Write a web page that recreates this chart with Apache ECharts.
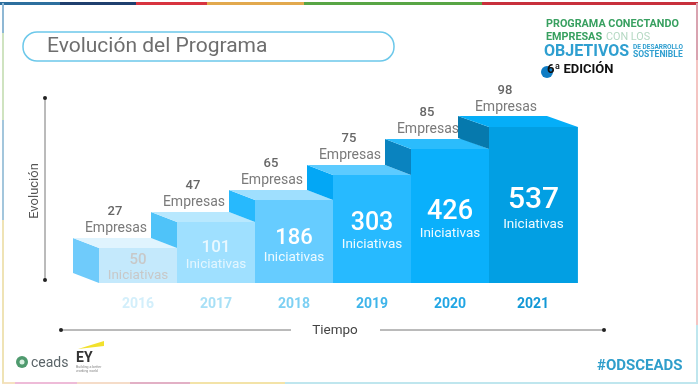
<!DOCTYPE html>
<html>
<head>
<meta charset="utf-8">
<script src="https://cdn.jsdelivr.net/npm/echarts@6/dist/echarts.min.js"></script>
<style>
  html, body { margin: 0; padding: 0; background: #fff; }
  #chart { width: 700px; height: 386px; }
</style>
</head>
<body>
<div id="chart"></div>
<script>
// values
const years = ['2016', '2017', '2018', '2019', '2020', '2021'];
const empresas = [27, 47, 65, 75, 85, 98];
const iniciativas = [50, 101, 186, 303, 426, 537];
const stepHeights = [35, 61, 83, 108, 134, 156];

// look of each step
const frontColors = ['#c4e9fc', '#9fe0ff', '#66ccff', '#27baff', '#0ab0fb', '#029fe3'];
const topColors = ['#e0f4fe', '#b8e8fe', '#9fdffe', '#5ccbff', '#2bbcfc', '#05aef8'];
const sideColors = ['#6fcbfb', '#4fc3f9', '#27b9fd', '#03a7f5', '#0a83bf', '#0679ad'];
const yearColors = ['#d3effb', '#a8e0f6', '#7dd0f3', '#3fb5ea', '#22a6e4', '#1298d6'];
const numberColors = ['#c8c8c8', '#e9f8ff', '#ffffff', '#ffffff', '#ffffff', '#ffffff'];
const wordColors = ['#c8c8c8', '#e4f6ff', '#eefaff', '#eefaff', '#eefaff', '#eefaff'];
const numberSizes = [15, 17, 22, 25, 27, 30];
const numberLift = [25, 37, 47, 61, 73, 85];
const wordLift = [9, 20, 27, 40, 51, 60];

const topSegments = [[0, 60, '#2d6f9e'], [60, 136, '#1f3f6e'], [136, 207, '#d8343f'], [207, 304, '#e2a94e'], [304, 482, '#58a545'], [482, 698, '#c8303c']];
const leftSegments = [[3, 33, '#8fb8d4'], [33, 120, '#cfe3c0'], [120, 220, '#a3c6dc'], [220, 383, '#efe3b5']];
const rightSegments = [[3, 60, '#d9a3b0'], [60, 325, '#f4c4c2'], [325, 384, '#bfe6ee']];
const bottomSegments = [[2, 15, '#f5e2c0'], [15, 77, '#eebbd8'], [77, 130, '#f5dcc8'], [130, 190, '#e2b0c5'], [190, 285, '#f3e3a8'], [285, 698, '#bfe6ee']];

const font = 'Roboto';
const textNudge = 2;

const segmentRects = () => {
    const rects = [];
    topSegments.forEach(s => rects.push({type: 'rect', shape: {x: s[0], y: 2, width: s[1] - s[0], height: 3}, style: {fill: s[2]}}));
    bottomSegments.forEach(s => rects.push({type: 'rect', shape: {x: s[0], y: 382, width: s[1] - s[0], height: 2}, style: {fill: s[2]}}));
    leftSegments.forEach(s => rects.push({type: 'rect', shape: {x: 2, y: s[0], width: 2, height: s[1] - s[0]}, style: {fill: s[2]}}));
    rightSegments.forEach(s => rects.push({type: 'rect', shape: {x: 696, y: s[0], width: 2, height: s[1] - s[0]}, style: {fill: s[2]}}));
    return rects;
};

const label = (x, y, text, size, color, weight, extra) => ({
    type: 'text',
    x: x,
    y: y + textNudge,
    style: Object.assign({
        text: text,
        fontFamily: font,
        fontSize: size,
        fontWeight: weight || 'normal',
        fill: color,
        align: 'left',
        verticalAlign: 'middle'
    }, extra || {})
});

const dot = (x, y) => ({type: 'circle', shape: {cx: x, cy: y, r: 2}, style: {fill: '#222'}});
const rule = (x1, y1, x2, y2) => ({type: 'line', shape: {x1: x1, y1: y1, x2: x2, y2: y2}, style: {stroke: '#777', lineWidth: 1}});

const renderStep = (params, api) => {
    const i = api.value(0);
    const last = i === years.length - 1;
    const band = api.size([1, 0])[0];
    const left = api.coord([i, 0])[0] - band / 2;
    const right = left + band * (last ? 1.14 : 1);
    const base = api.coord([i, 0])[1];
    const top = api.coord([i, api.value(1)])[1];
    const prev = i === 0 ? base : api.coord([i, stepHeights[i - 1]])[1];
    const depth = last ? 31 : 26;
    const rise = last ? 11 : 10;
    const mid = (left + right) / 2;
    const heads = left + band / 2;
    const textAt = {align: 'center'};

    return {
        type: 'group',
        children: [
            {type: 'polygon', shape: {points: [[left - depth, top - rise], [left, top], [left, prev], [left - depth, prev - rise]]}, style: {fill: sideColors[i]}},
            {type: 'polygon', shape: {points: [[left - depth, top - rise], [right - depth, top - rise], [right, top], [left, top]]}, style: {fill: topColors[i]}},
            {type: 'rect', shape: {x: left, y: top, width: right - left, height: base - top}, style: {fill: frontColors[i]}},
            label(mid, base - numberLift[i], String(iniciativas[i]), numberSizes[i], numberColors[i], '500', textAt),
            label(mid, base - wordLift[i], 'Iniciativas', 13.5, wordColors[i], 'normal', textAt),
            label(heads - 23, top - 38, String(empresas[i]), 13, '#666666', '500', textAt),
            label(heads - 22, top - 22, 'Empresas', 14, '#7a7a7a', 'normal', textAt)
        ]
    };
};

const myChart = echarts.init(document.getElementById('chart'));

const yearRich = {};
years.forEach((y, i) => {
    yearRich['c' + i] = {
        color: yearColors[i],
        fontFamily: font,
        fontSize: 14,
        fontWeight: 'bold',
        padding: i === years.length - 1 ? [0, 0, 0, 10] : 0
    };
});

const option = {
    animation: false,
    backgroundColor: '#ffffff',
    grid: {left: 99, top: 83, width: 468, height: 200},
    xAxis: {
        type: 'category',
        data: years,
        axisLine: {show: false},
        axisTick: {show: false},
        axisLabel: {
            margin: 14,
            interval: 0,
            formatter: (value, index) => `{c${index}|${value}}`,
            rich: yearRich
        }
    },
    yAxis: {type: 'value', min: 0, max: 200, show: false},
    series: [{
        type: 'custom',
        renderItem: renderStep,
        encode: {x: 0, y: 1},
        data: stepHeights.map((h, i) => [i, h]),
        clip: false
    }],
    graphic: {
        elements: segmentRects().concat([
            // title pill
            {type: 'rect', shape: {x: 23, y: 32, width: 371, height: 29, r: 14}, style: {fill: '#fff', stroke: '#6cc8ea', lineWidth: 1.5}},
            label(47, 45, 'Evolución del Programa', 21, '#6e6e6e'),
            // axis arrows
            rule(45, 98, 45, 280), dot(45, 98), dot(45, 280),
            rule(61, 330, 291, 330), dot(61, 330),
            rule(380, 330, 604, 330), dot(604, 330),
            Object.assign(label(35, 189, 'Evolución', 13, '#555555', 'normal', {align: 'center'}), {rotation: Math.PI / 2}),
            label(335, 329, 'Tiempo', 13.5, '#444444', 'normal', {align: 'center'}),
            // program badge
            label(546, 22, 'PROGRAMA CONECTANDO', 10.8, '#38a060', 'bold'),
            label(546, 35, 'EMPRESAS', 10.8, '#38a060', 'bold'),
            label(606, 35, 'CON LOS', 10.8, '#b5d9c3'),
            label(544, 50, 'OBJETIVOS', 16, '#2f9fd0', 'bold'),
            label(633, 45, 'DE DESARROLLO', 6.5, '#2f9fd0', 'bold'),
            label(633, 53, 'SOSTENIBLE', 8.5, '#2f9fd0', 'bold'),
            {type: 'circle', shape: {cx: 547, cy: 72, r: 6}, style: {fill: '#0e7cc4'}},
            label(547, 68, '6ª EDICIÓN', 13, '#111111', 'bold'),
            // footer logos
            {type: 'circle', shape: {cx: 22, cy: 362, r: 6}, style: {fill: '#4f9a6e'}},
            {type: 'circle', shape: {cx: 22, cy: 362, r: 2.5}, style: {fill: '#d8efe0'}},
            label(31, 361, 'ceads', 14, '#5a6468'),
            {type: 'polygon', shape: {points: [[78, 349], [104, 341], [104, 346]]}, style: {fill: '#f2e12d'}},
            label(76, 356, 'EY', 14, '#333333', 'bold'),
            label(76, 365, 'Building a better', 3.5, '#888888'),
            label(76, 369, 'working world', 3.5, '#888888'),
            label(597, 364, '#ODSCEADS', 15, '#2f9ecb', 'bold')
        ])
    }
};

myChart.setOption(option);
</script>
</body>
</html>
